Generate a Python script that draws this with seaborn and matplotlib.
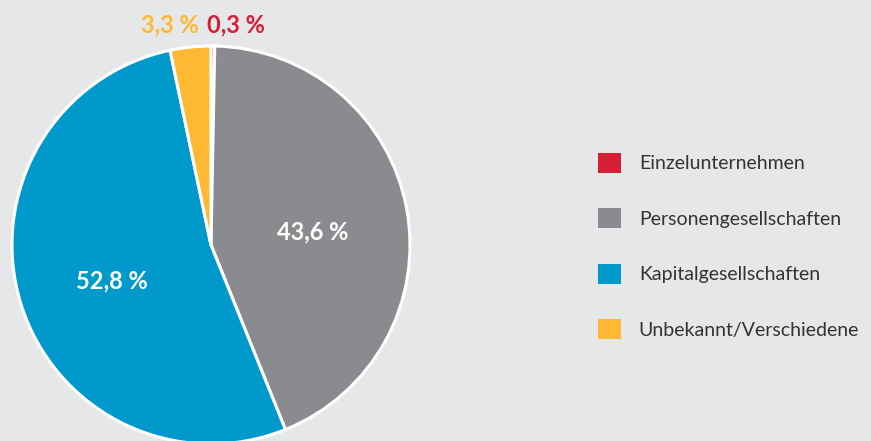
import matplotlib
matplotlib.use("Agg")
import matplotlib.pyplot as plt
import seaborn as sns
import numpy as np
from matplotlib.patches import Patch

categories = ["Einzelunternehmen", "Personengesellschaften", "Kapitalgesellschaften", "Unbekannt/Verschiedene"]
values = [0.3, 43.6, 52.8, 3.3]
labels = ["0,3 %", "43,6 %", "52,8 %", "3,3 %"]
colors = ["#d51f35", "#8a8b8f", "#0099cc", "#fdb933"]

bg = "#e6e7e9"
sns.set_style("white")
plt.rcParams["font.family"] = ["Lato", "DejaVu Sans"]

W, H = 871, 441
fig = plt.figure(figsize=(W / 100, H / 100), dpi=100, facecolor=bg)
ax = fig.add_axes([0, 0, 1, 1])
ax.set_facecolor(bg)

cx, cy, R = 211, 196, 199  # pixels from bottom-left
wedges, _ = ax.pie(values, colors=colors, startangle=90, counterclock=False,
                   wedgeprops=dict(edgecolor="white", linewidth=2.2))
ax.set_aspect("auto")
ax.set_xlim(-cx / R, (W - cx) / R)
ax.set_ylim(-cy / R, (H - cy) / R)
ax.axis("off")

for w, lab, v in zip(wedges, labels, values):
    mid = np.deg2rad((w.theta1 + w.theta2) / 2)
    if v > 10:
        r = 0.52
        ax.annotate(lab, xy=(r * np.cos(mid), r * np.sin(mid)), xytext=(0, -4),
                    textcoords="offset points", color="white", fontsize=17,
                    fontweight="bold", ha="center", va="center")

# small outer labels, anchored at the top of the pie
ax.annotate(labels[3], xy=(0, 1), xytext=(-9, 7), textcoords="offset points",
            color=colors[3], fontsize=17, fontweight="bold", ha="right", va="bottom")
ax.annotate(labels[0], xy=(0, 1), xytext=(-3, 7), textcoords="offset points",
            color=colors[0], fontsize=17, fontweight="bold", ha="left", va="bottom")

handles = [Patch(facecolor=c, edgecolor="none") for c in colors]
fig.legend(handles, categories, loc="center left", bbox_to_anchor=(598 / W, 1 - 246 / H),
           frameon=False, fontsize=14, handlelength=1.2, handleheight=1.2,
           handletextpad=0.9, labelspacing=1.83, borderpad=0, borderaxespad=0,
           labelcolor="#333333")

fig.savefig("out.png", dpi=100, facecolor=bg)
